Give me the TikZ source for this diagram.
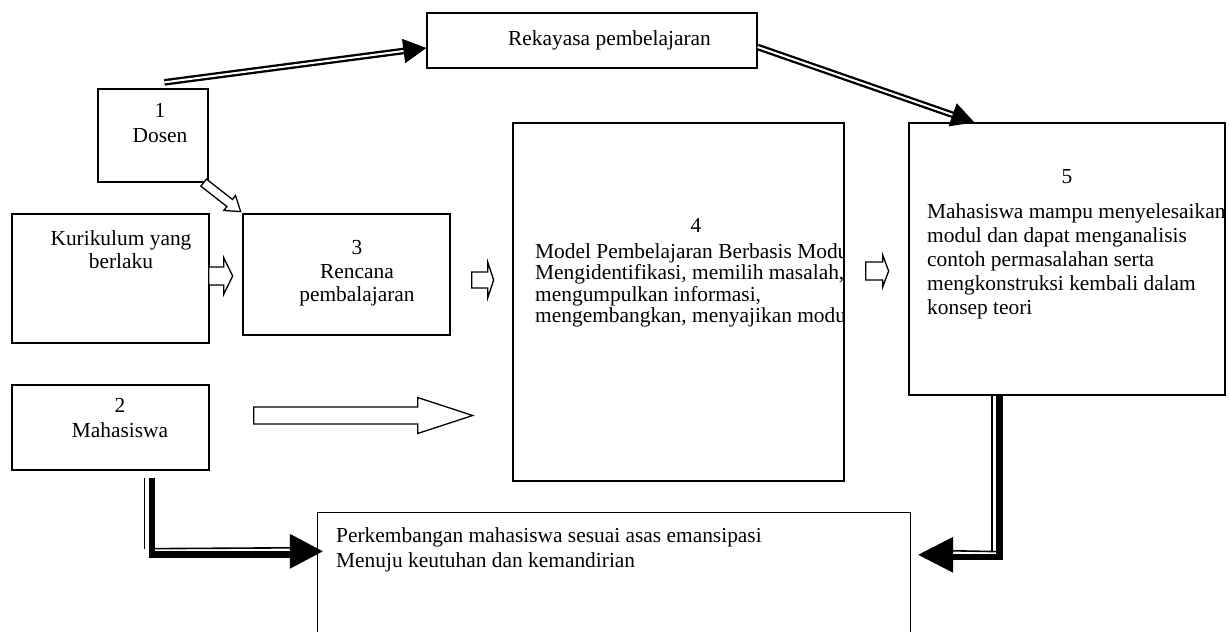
\documentclass[tikz,border=0pt]{standalone}
\usepackage{fontspec}
\setmainfont{Liberation Serif}
\usetikzlibrary{arrows.meta,calc}
\tikzset{
  box/.style={draw, line width=1.3pt, inner sep=0pt, rectangle},
  txt/.style={inner sep=0pt, font=\fontsize{21.4}{#1}\selectfont},
  txt/.default=23,
  hollow/.style={draw, line width=1.3pt, fill=white, line join=miter},
  dblarrow/.style={draw, line width=2.3pt, double distance=2pt, -{Triangle[length=23pt,width=24pt]}},
  heavyline/.style={draw, line width=6.5pt},
  lightline/.style={draw, line width=1.6pt},
  headfill/.style={fill=black},
}
% #1 start, #2 angle, #3 length, #4 shaft half width, #5 head half width, #6 head length
\newcommand\blockarrow[6]{%
  \draw[hollow, shift={#1}, rotate=#2] (0,#4) -- ({#3-#6},#4) -- ({#3-#6},#5) -- (#3,0)
    -- ({#3-#6},-#5) -- ({#3-#6},-#4) -- (0,-#4) -- cycle;}
\begin{document}
\begin{tikzpicture}[x=1pt,y=-1pt]
\useasboundingbox (0,0) rectangle (1229,632);
% boxes
\node[box, minimum width=330pt, minimum height=55pt] (rek) at (592,40.5) {};
\node[box, minimum width=110pt, minimum height=93pt] (dosen) at (153,135.5) {};
\node[box, minimum width=197pt, minimum height=129pt] (kur) at (110.5,278.5) {};
\node[box, minimum width=207pt, minimum height=121pt] (ren) at (346.5,274.5) {};
\node[box, minimum width=331pt, minimum height=358pt] (model) at (678.5,302) {};
\node[box, minimum width=316pt, minimum height=272pt] (five) at (1067,259) {};
\node[box, minimum width=197pt, minimum height=85pt] (maha) at (110.5,427.5) {};
\node[inner sep=0pt, minimum width=592pt, minimum height=119pt] (perk) at (614,572.5) {};
\draw[line width=1.3pt] (perk.south west) |- (perk.north east) -- (perk.south east);

% texts
\node[txt, anchor=base west] (rekt) at (508,45) {Rekayasa pembelajaran};
\node[txt=25, anchor=north, align=center] (dosent) at (160,103.5) {1\\Dosen};
\node[txt=23, anchor=north, align=center] (kurt) at (121,230.5) {Kurikulum yang\\berlaku};
\node[txt=23.5, anchor=north, align=center] (rent) at (357,240.5) {3\\Rencana\\pembalajaran};
\node[txt, anchor=north] (modeln) at (696,218.5) {4};
\begin{scope}
  \clip (model.north west) rectangle ($(model.south east)+(-0.7,0)$);
  \node[txt=21.4, anchor=north west, align=left] (modelt) at (535,243.5)
    {Model Pembelajaran Berbasis Modul\\Mengidentifikasi, memilih masalah,\\mengumpulkan informasi,\\mengembangkan, menyajikan modul};
\end{scope}
\node[txt, anchor=north] (fiven) at (1067,169.5) {5};
\begin{scope}
  \clip (five.north west) rectangle ($(five.south east)+(-0.7,0)$);
  \node[txt=24, anchor=north west, align=left] (fivet) at (927,203.5)
    {Mahasiswa mampu menyelesaikan\\modul dan dapat menganalisis\\contoh permasalahan serta\\mengkonstruksi kembali dalam\\konsep teori};
\end{scope}
\node[txt=25, anchor=north, align=center] (mahat) at (120,398.5) {2\\Mahasiswa};
\node[txt=25, anchor=north west, align=left] (perkt) at (336,527.5)
  {Perkembangan mahasiswa sesuai asas emansipasi\\Menuju keutuhan dan kemandirian};

% double-line arrows
\draw[dblarrow] ($(dosen.north west)+(67,-6)$) -- ($(rek.west)+(0,7.5)$);
\draw[dblarrow] ($(rek.east)+(0,6.5)$) -- ($(five.north west)+(66,0)$);

% hollow block arrows
\blockarrow{($(dosen.south east)+(-5,0)$)}{-38}{47}{4.5}{9.5}{14}
\blockarrow{($(kur.east)+(-1,-2.5)$)}{0}{24}{9}{18.5}{9}
\blockarrow{($(ren.east)+(21,5.5)$)}{0}{22}{8}{18}{6}
\blockarrow{($(model.east)+(21,-31)$)}{0}{23}{9}{16}{6}
\blockarrow{($(maha.east)+(44,-12)$)}{0}{219}{8.5}{18}{55}

% thick-thin connector: Mahasiswa -> Perkembangan
\coordinate (ma) at ($(maha.south west)+(140.5,7)$);
\draw[heavyline] (ma) |- ($(perk.north west)+(-23,41.5)$);
\draw[lightline] ($(ma)+(-7.5,0)$) -- ++(0,71);
\draw[lightline] ($(ma)+(0,71)$) -- ($(perk.north west)+(-23,35)$);
\fill[headfill] ($(perk.north west)+(-28,21)$) -- ($(perk.north west)+(5,38.5)$) -- ($(perk.north west)+(-28,56)$) -- cycle;

% thick-thin connector: 5 -> Perkembangan
\coordinate (fb) at ($(five.south west)+(91,0)$);
\draw[heavyline] (fb) |- ($(perk.north east)+(43,44)$);
\draw[lightline] ($(fb)+(-7.5,0)$) -- ++(0,156);
\draw[lightline] ($(fb)+(0,156)$) -- ($(perk.north east)+(43,38)$);
\fill[headfill] ($(perk.north east)+(43,24)$) -- ($(perk.north east)+(8,42)$) -- ($(perk.north east)+(43,60)$) -- cycle;
\end{tikzpicture}
\end{document}
